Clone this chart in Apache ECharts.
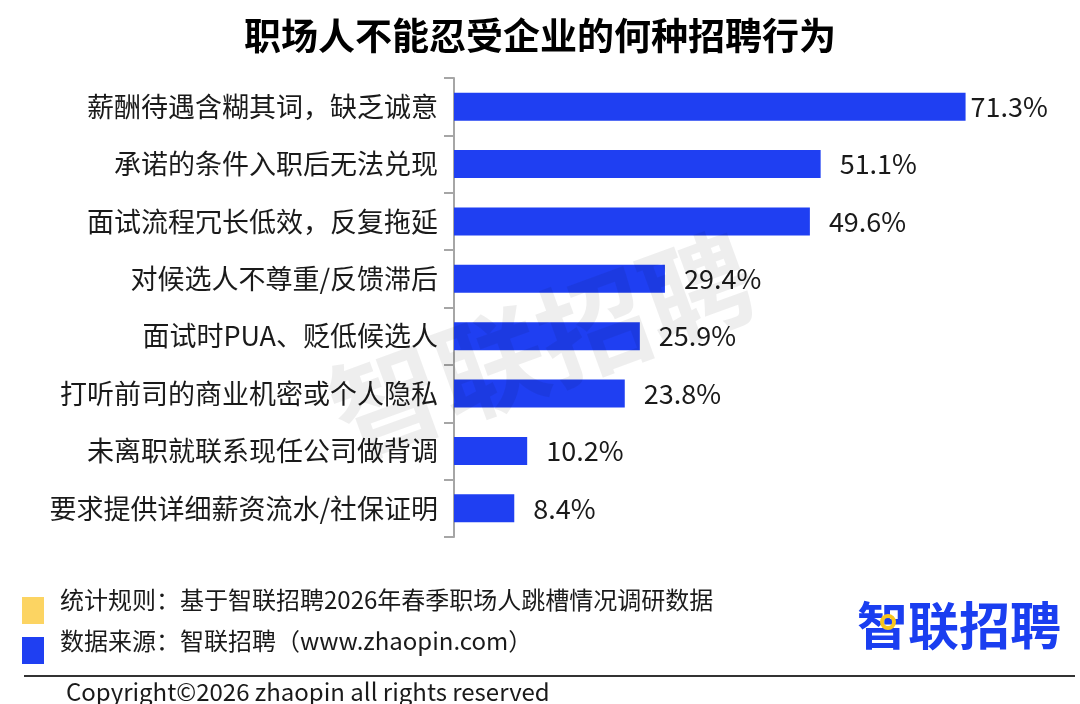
<!DOCTYPE html>
<html>
<head>
<meta charset="utf-8">
<script src="https://cdn.jsdelivr.net/npm/echarts@6/dist/echarts.min.js"></script>
<style>
    html, body { margin: 0; padding: 0; background: #fff; }
    #chart { width: 1080px; height: 704px; }
</style>
</head>
<body>
<div id="chart"></div>
<script>
const titleText = '职场人不能忍受企业的何种招聘行为';
const behaviors = [
    '薪酬待遇含糊其词，缺乏诚意',
    '承诺的条件入职后无法兑现',
    '面试流程冗长低效，反复拖延',
    '对候选人不尊重/反馈滞后',
    '面试时PUA、贬低候选人',
    '打听前司的商业机密或个人隐私',
    '未离职就联系现任公司做背调',
    '要求提供详细薪资流水/社保证明'
];
const shares = [71.3, 51.1, 49.6, 29.4, 25.9, 23.8, 10.2, 8.4];
const footnotes = [
    '统计规则：基于智联招聘2026年春季职场人跳槽情况调研数据',
    '数据来源：智联招聘（www.zhaopin.com）'
];
const copyrightText = 'Copyright©2026 zhaopin all rights reserved';
const brandText = '智联招聘';

const cjkFont = '"Noto Sans CJK SC", "Noto Sans", sans-serif';
const barBlue = '#1f3ff2';

const chart = echarts.init(document.getElementById('chart'));

const option = {
    backgroundColor: '#fff',
    animation: false,
    textStyle: { fontFamily: cjkFont },
    title: {
        text: titleText,
        left: 'center',
        top: 12,
        textStyle: {
            fontFamily: cjkFont,
            fontSize: 37,
            fontWeight: 'bold',
            color: '#000'
        }
    },
    grid: {
        left: 454,
        right: 52,
        top: 78,
        bottom: 167
    },
    xAxis: {
        type: 'value',
        min: 0,
        max: 80,
        show: false
    },
    yAxis: {
        type: 'category',
        inverse: true,
        data: behaviors,
        axisLine: { show: true, lineStyle: { color: '#a6a6a6', width: 2 } },
        axisTick: { show: true, length: 10, lineStyle: { color: '#a6a6a6', width: 2 } },
        axisLabel: {
            margin: 16,
            fontSize: 27,
            color: '#1a1a1a',
            fontFamily: cjkFont
        }
    },
    series: [
        {
            type: 'bar',
            barWidth: 28,
            itemStyle: { color: barBlue },
            // the top label sits tight against its bar in the source picture
            data: shares.map((v, i) => i === 0
                ? { value: v, label: { distance: 5 } }
                : v),
            label: {
                show: true,
                position: 'right',
                distance: 19,
                fontSize: 27,
                color: '#1a1a1a',
                fontFamily: cjkFont,
                formatter: p => p.value.toFixed(1) + '%'
            }
        }
    ],
    graphic: [
        // watermark
        {
            type: 'text',
            x: 542,
            y: 345,
            rotation: Math.PI / 9,
            z: 100,
            style: {
                text: brandText,
                fontSize: 110,
                fontWeight: 'bold',
                fontFamily: cjkFont,
                fill: 'rgba(0,0,0,0.065)',
                align: 'center',
                verticalAlign: 'middle'
            }
        },
        // footnote markers
        { type: 'rect', shape: { x: 22, y: 597, width: 22, height: 27 }, style: { fill: '#fcd462' } },
        { type: 'rect', shape: { x: 22, y: 637, width: 22, height: 27 }, style: { fill: '#1f3ff2' } },
        {
            type: 'text', left: 60, top: 588,
            style: { text: footnotes[0], fontSize: 24, fontFamily: cjkFont, fill: '#1a1a1a' }
        },
        {
            type: 'text', left: 60, top: 629,
            style: { text: footnotes[1], fontSize: 24, fontFamily: cjkFont, fill: '#1a1a1a' }
        },
        // brand logo text
        {
            type: 'text', left: 857, top: 600,
            style: { text: brandText, fontSize: 51, fontWeight: 'bold', fontFamily: cjkFont, fill: '#1a3ef0' }
        },
        { type: 'circle', shape: { cx: 888, cy: 622, r: 6 }, style: { fill: 'none', stroke: '#f8c51c', lineWidth: 4 } },
        // divider and copyright
        { type: 'line', shape: { x1: 24, y1: 676, x2: 1075, y2: 676 }, style: { stroke: '#333', lineWidth: 2 } },
        {
            type: 'text', left: 66, top: 680,
            style: { text: copyrightText, fontSize: 24, fontFamily: cjkFont, fill: '#1a1a1a' }
        }
    ]
};

chart.setOption(option);
</script>
</body>
</html>
